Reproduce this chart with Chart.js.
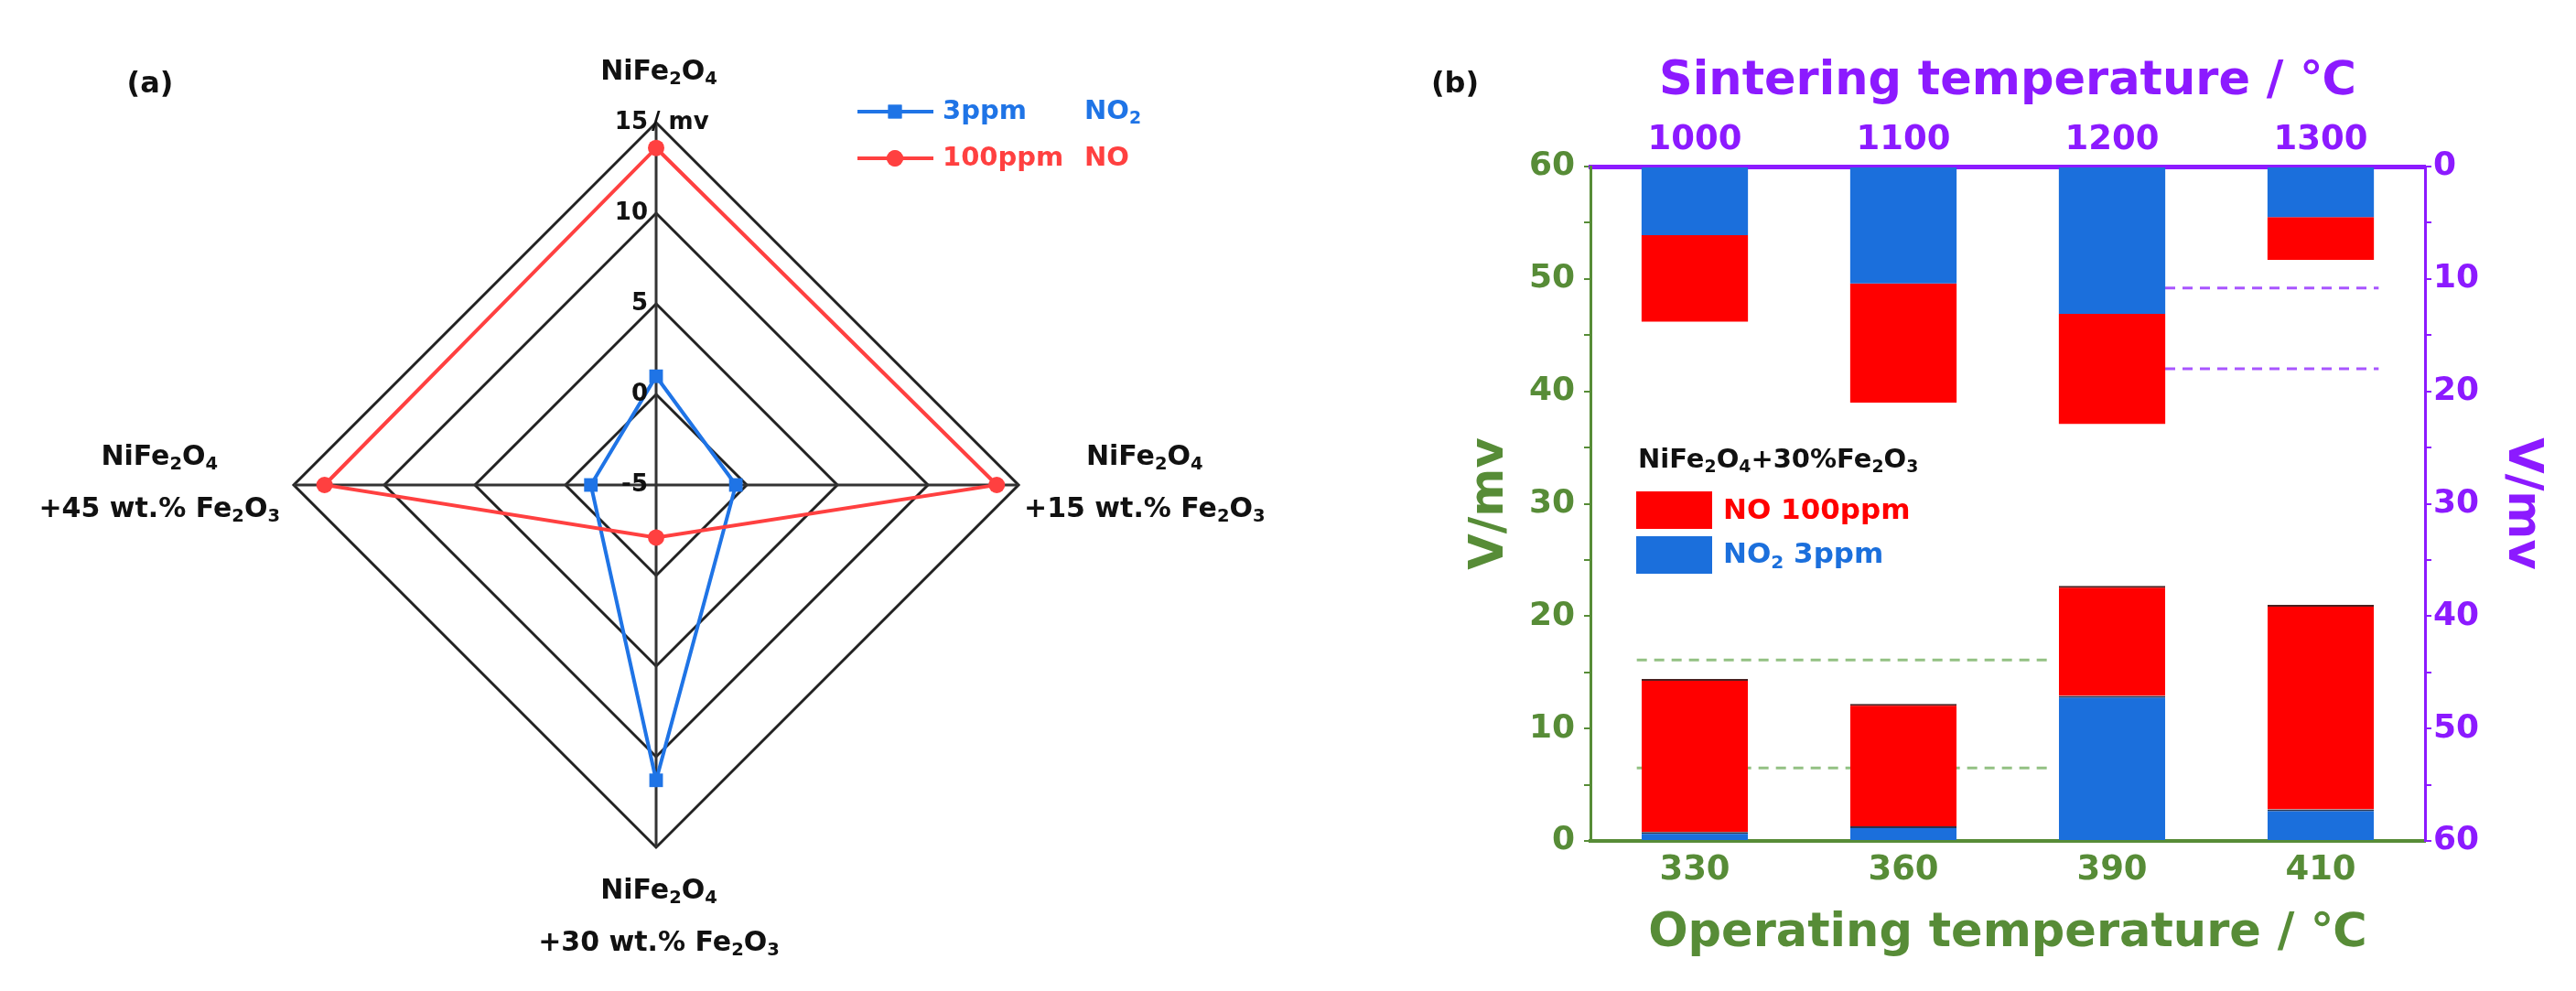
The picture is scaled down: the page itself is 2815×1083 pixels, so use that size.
<!DOCTYPE html>
<html><head><meta charset="utf-8">
<script src="https://cdn.jsdelivr.net/npm/chart.js@4.4.1/dist/chart.umd.min.js"></script>
<style>
html,body{margin:0;padding:0;background:#fff;width:2815px;height:1083px;overflow:hidden}
#wa{position:absolute;left:0;top:0;width:1450px;height:1083px}
#wb{position:absolute;left:1450px;top:0;width:1365px;height:1083px}
</style></head><body>
<div id="wa"><canvas id="ca"></canvas></div>
<div id="wb"><canvas id="cb"></canvas></div>
<script>
// ---------- DATA ----------
// Panel (a) radar
const radarLabels = [['NiFe_2O_4'], ['NiFe_2O_4', '+15 wt.% Fe_2O_3'], ['NiFe_2O_4', '+30 wt.% Fe_2O_3'], ['NiFe_2O_4', '+45 wt.% Fe_2O_3']];
const radarTicks = [-5, 0, 5, 10, 15];
const no2Radar = [1.0, -0.6, 11.3, -1.4];
const noRadar = [13.6, 13.8, -2.1, 13.3];
// Panel (b) bars
const opTemps = ['330', '360', '390', '410'];
const sinterTemps = ['1000', '1100', '1200', '1300'];
const opNO2 = [0.8, 1.3, 12.9, 2.8];
const opNO = [13.6, 10.9, 9.8, 18.2];
const sinNO2 = [6.1, 10.4, 13.1, 4.5];
const sinNO = [7.7, 10.6, 9.8, 3.8];
const greenRefs = [16.1, 6.5];
const purpleRefs = [10.8, 18.0];

// ---------- STYLE ----------
const FONT = '"DejaVu Sans", "Liberation Sans", Arial, sans-serif';
const GREEN = '#578c37', PURPLE = '#8c1aff';
const BAR_BLUE = '#1b6fdc', BAR_RED = '#ff0000';
const L_BLUE = '#1f74e6', L_RED = '#ff4040';
const BAR_PCT = 0.51;
Chart.defaults.font.family = FONT;
Chart.defaults.font.weight = 'bold';

function parseRich(s) {
  const segs = []; let cur = ''; let i = 0;
  while (i < s.length) {
    if (s[i] === '_' && i + 1 < s.length) {
      if (cur) { segs.push({t: cur, sub: false}); cur = ''; }
      segs.push({t: s[i + 1], sub: true}); i += 2;
    } else { cur += s[i]; i++; }
  }
  if (cur) segs.push({t: cur, sub: false});
  return segs;
}
function richWidth(ctx, s, size, weight) {
  let w = 0;
  for (const g of parseRich(s)) { ctx.font = `${weight} ${g.sub ? size * 0.65 : size}px ${FONT}`; w += ctx.measureText(g.t).width; }
  return w;
}
function drawRich(ctx, s, x, y, size, color, align, weight) {
  weight = weight || 'bold';
  const w = richWidth(ctx, s, size, weight);
  let cx = align === 'center' ? x - w / 2 : align === 'right' ? x - w : x;
  ctx.save(); ctx.fillStyle = color; ctx.textAlign = 'left'; ctx.textBaseline = 'middle';
  for (const g of parseRich(s)) {
    const fs = g.sub ? size * 0.65 : size;
    ctx.font = `${weight} ${fs}px ${FONT}`;
    ctx.fillText(g.t, cx, g.sub ? y + size * 0.28 : y);
    cx += ctx.measureText(g.t).width;
  }
  ctx.restore();
  return w;
}

// ---------- PANEL (a) ----------
const radarDeco = {
  id: 'radarDeco',
  afterDraw(chart) {
    const ctx = chart.ctx, r = chart.scales.r;
    const cx = r.xCenter, cy = r.yCenter;
    // tick labels
    radarTicks.forEach(v => {
      const y = cy - r.getDistanceFromCenterForValue(v);
      ctx.save(); ctx.fillStyle = '#111'; ctx.font = `bold 26px ${FONT}`; ctx.textBaseline = 'middle';
      ctx.textAlign = 'right'; ctx.fillText(String(v), cx - 9, y);
      if (v === radarTicks[radarTicks.length - 1]) { ctx.textAlign = 'left'; ctx.fillText('/ mv', cx - 5, y); }
      ctx.restore();
    });
    // point labels
    const S = 30;
    radarLabels.forEach((lines, i) => {
      const p = r.getPointPosition(i, r.drawingArea);
      const bw = Math.max(...lines.map(l => richWidth(ctx, l, S, 'bold')));
      if (i === 0) {
        drawRich(ctx, lines[0], p.x + 3, p.y - 55, S, '#111', 'center');
      } else if (i === 1) {
        const x = p.x + 6 + bw / 2;
        drawRich(ctx, lines[0], x, p.y - 30, S, '#111', 'center');
        drawRich(ctx, lines[1], x, p.y + 27, S, '#111', 'center');
      } else if (i === 2) {
        drawRich(ctx, lines[0], p.x + 3, p.y + 48, S, '#111', 'center');
        drawRich(ctx, lines[1], p.x + 3, p.y + 105, S, '#111', 'center');
      } else {
        const x = p.x - 15 - bw / 2;
        drawRich(ctx, lines[0], x, p.y - 30, S, '#111', 'center');
        drawRich(ctx, lines[1], x, p.y + 27, S, '#111', 'center');
      }
    });
    // legend
    const items = [
      {ds: chart.data.datasets[1], y: 122, a: '3ppm', b: 'NO_2'},
      {ds: chart.data.datasets[0], y: 173, a: '100ppm', b: 'NO'}
    ];
    items.forEach(it => {
      ctx.save();
      ctx.strokeStyle = it.ds.borderColor; ctx.lineWidth = 4;
      ctx.beginPath(); ctx.moveTo(937, it.y); ctx.lineTo(1020, it.y); ctx.stroke();
      ctx.fillStyle = it.ds.borderColor;
      Chart.helpers.drawPoint(ctx, {pointStyle: it.ds.pointStyle, radius: it.ds.pointRadius, borderWidth: 0}, 978, it.y);
      ctx.fill();
      ctx.restore();
      drawRich(ctx, it.a, 1030, it.y, 29, it.ds.borderColor, 'left');
      drawRich(ctx, it.b, 1185, it.y, 29, it.ds.borderColor, 'left');
    });
    // panel letter
    ctx.save(); ctx.fillStyle = '#111'; ctx.font = `bold 32px ${FONT}`; ctx.textAlign = 'center'; ctx.textBaseline = 'middle';
    ctx.fillText('(a)', 164, 93); ctx.restore();
  }
};

new Chart(document.getElementById('ca'), {
  type: 'radar',
  data: {
    labels: radarLabels,
    datasets: [
      {label: '100ppm NO', data: noRadar, borderColor: L_RED, backgroundColor: L_RED, borderWidth: 4,
       pointStyle: 'circle', pointRadius: 9, pointBorderWidth: 0, pointBackgroundColor: L_RED, fill: false},
      {label: '3ppm NO2', data: no2Radar, borderColor: L_BLUE, backgroundColor: L_BLUE, borderWidth: 4,
       pointStyle: 'rect', pointRadius: 10.5, pointBorderWidth: 0, pointBackgroundColor: L_BLUE, fill: false}
    ]
  },
  options: {
    responsive: true, maintainAspectRatio: false, animation: false,
    layout: {padding: {top: 134, bottom: 157, left: 0, right: 16}},
    plugins: {legend: {display: false}, tooltip: {enabled: false}},
    elements: {line: {tension: 0}},
    scales: {
      r: {
        min: radarTicks[0], max: radarTicks[radarTicks.length - 1], beginAtZero: false,
        ticks: {stepSize: 5, display: false},
        pointLabels: {display: false},
        grid: {color: '#222', lineWidth: 3},
        angleLines: {color: '#333', lineWidth: 3}
      }
    }
  },
  plugins: [radarDeco]
});

// ---------- PANEL (b) ----------
const barDeco = {
  id: 'barDeco',
  afterDraw(chart) {
    const ctx = chart.ctx, a = chart.chartArea;
    const lx = a.left + 52;
    drawRich(ctx, 'NiFe_2O_4+30%Fe_2O_3', lx, a.top + 321, 29, '#111', 'left');
    ctx.save();
    ctx.fillStyle = BAR_RED; ctx.fillRect(lx - 2, a.top + 355, 83, 41);
    ctx.fillStyle = BAR_BLUE; ctx.fillRect(lx - 2, a.top + 404, 83, 41);
    ctx.restore();
    drawRich(ctx, 'NO 100ppm', lx + 93, a.top + 377, 31, BAR_RED, 'left');
    drawRich(ctx, 'NO_2 3ppm', lx + 93, a.top + 425, 31, BAR_BLUE, 'left');
    ctx.save(); ctx.fillStyle = '#111'; ctx.font = `bold 32px ${FONT}`; ctx.textAlign = 'center'; ctx.textBaseline = 'middle';
    ctx.fillText('(b)', 140, 93); ctx.restore();
  }
};

const refLine = (val, from, to, axis, color, id) => ({
  type: 'line', label: id, stack: id, xAxisID: 'xl', yAxisID: axis,
  data: [{x: from, y: val}, {x: to, y: val}],
  borderColor: color, borderWidth: 3, borderDash: [11, 8], pointRadius: 0, fill: false
});
const lineDatasets = [];
greenRefs.forEach((v, i) => lineDatasets.push(refLine(v, -0.5, 2 - BAR_PCT / 2, 'y', '#93c183', 'g' + i)));
purpleRefs.forEach((v, i) => lineDatasets.push(refLine(v, 2 + BAR_PCT / 2, 3.5, 'y2', '#a855ff', 'p' + i)));

const tickFont = {size: 36, weight: 'bold', family: FONT};
new Chart(document.getElementById('cb'), {
  type: 'bar',
  data: {
    labels: opTemps,
    datasets: [
      {label: 'NO2 op', data: opNO2, backgroundColor: BAR_BLUE, xAxisID: 'x', yAxisID: 'y', stack: 'bottom',
       borderColor: '#2a3550', borderWidth: {top: 2, left: 0, right: 0, bottom: 0}},
      {label: 'NO op', data: opNO, backgroundColor: BAR_RED, xAxisID: 'x', yAxisID: 'y', stack: 'bottom',
       borderColor: '#4a2020', borderWidth: {top: 2, left: 0, right: 0, bottom: 0}},
      {label: 'NO2 sin', data: sinNO2, backgroundColor: BAR_BLUE, xAxisID: 'x2', yAxisID: 'y2', stack: 'top', borderWidth: 0},
      {label: 'NO sin', data: sinNO, backgroundColor: BAR_RED, xAxisID: 'x2', yAxisID: 'y2', stack: 'top', borderWidth: 0},
      ...lineDatasets
    ]
  },
  options: {
    responsive: true, maintainAspectRatio: false, animation: false,
    layout: {padding: 0},
    plugins: {legend: {display: false}, tooltip: {enabled: false}},
    datasets: {bar: {barPercentage: BAR_PCT, categoryPercentage: 1.0, grouped: false}},
    scales: {
      x: {
        type: 'category', position: 'bottom', stacked: true, offset: true,
        afterFit(s) { s.height = 164; },
        grid: {display: true, drawOnChartArea: false, drawTicks: false},
        border: {color: GREEN, width: 4},
        ticks: {color: GREEN, font: {size: 37, weight: 'bold', family: FONT}, padding: 10},
        title: {display: true, text: 'Operating temperature / ℃', color: GREEN,
                font: {size: 51, weight: 'bold', family: FONT}, padding: {top: 0, bottom: 32}}
      },
      x2: {
        type: 'category', position: 'top', labels: sinterTemps, stacked: true, offset: true,
        afterFit(s) { s.height = 182; },
        grid: {display: true, drawOnChartArea: false, drawTicks: false},
        border: {color: PURPLE, width: 5},
        ticks: {color: PURPLE, font: {size: 37, weight: 'bold', family: FONT}, padding: 6},
        title: {display: true, text: 'Sintering temperature / ℃', color: PURPLE,
                font: {size: 51, weight: 'bold', family: FONT}, padding: {top: 59, bottom: 0}}
      },
      xl: {type: 'linear', display: false, min: -0.5, max: 3.5},
      y: {
        position: 'left', min: 0, max: 60, stacked: true,
        afterFit(s) { s.width = 288; },
        grid: {display: true, drawOnChartArea: false, drawTicks: true, tickLength: 7, color: GREEN, lineWidth: 2},
        border: {color: GREEN, width: 3},
        ticks: {stepSize: 5, color: GREEN, font: tickFont, padding: 10,
                callback: v => (v % 10 === 0 ? String(v) : '')},
        title: {display: true, text: 'V/mv', color: GREEN, font: {size: 51, weight: 'bold', family: FONT},
                padding: {top: 148, bottom: 0}}
      },
      y2: {
        position: 'right', min: 0, max: 60, reverse: true, stacked: true,
        afterFit(s) { s.width = 165; },
        grid: {display: true, drawOnChartArea: false, drawTicks: true, tickLength: 7, color: PURPLE, lineWidth: 2},
        border: {color: PURPLE, width: 3},
        ticks: {stepSize: 5, color: PURPLE, font: tickFont, padding: 2,
                callback: v => (v % 10 === 0 ? String(v) : '')},
        title: {display: true, text: 'V/mv', color: PURPLE, font: {size: 51, weight: 'bold', family: FONT},
                padding: {top: 29, bottom: 0}}
      }
    }
  },
  plugins: [barDeco]
});
</script></body></html>
